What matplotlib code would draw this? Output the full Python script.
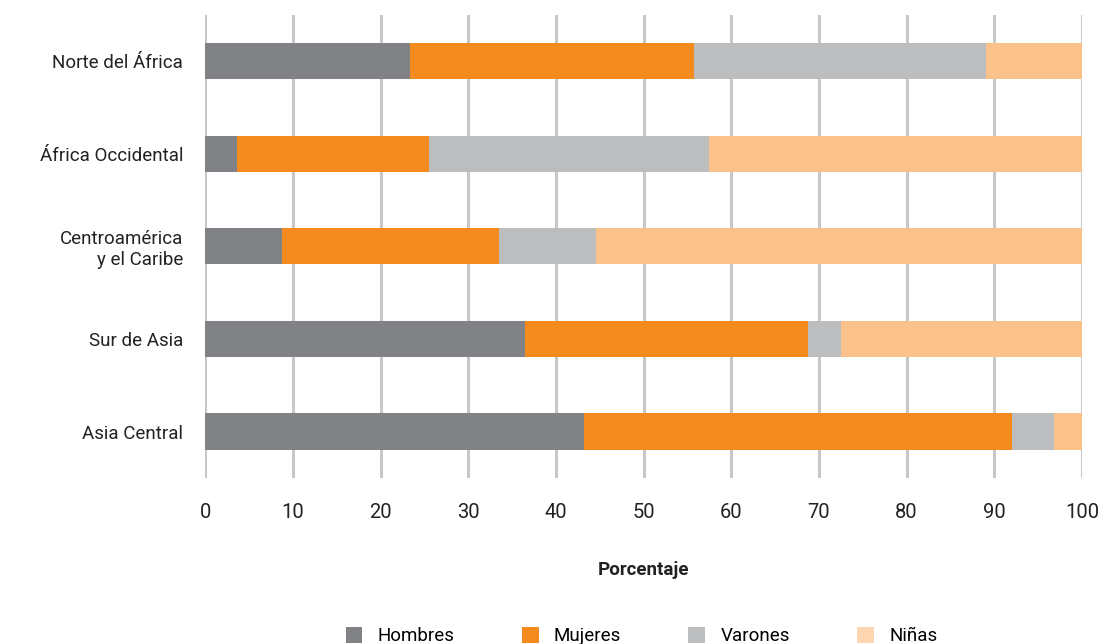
import matplotlib
matplotlib.use("Agg")
import matplotlib.pyplot as plt
from matplotlib.patches import Patch

plt.rcParams['font.family'] = ['Roboto', 'DejaVu Sans']

categories = ["Norte del África", "África Occidental", "Centroamérica\ny el Caribe", "Sur de Asia", "Asia Central"]
series_names = ["Hombres", "Mujeres", "Varones", "Niñas"]
hombres = [23.3, 3.6, 8.7, 36.5, 43.2]
mujeres = [32.5, 21.9, 24.8, 32.2, 48.8]
varones = [33.3, 32.0, 11.1, 3.8, 4.8]
ninas = [10.9, 42.5, 55.4, 27.5, 3.2]
xticks = [0, 10, 20, 30, 40, 50, 60, 70, 80, 90, 100]

colors = ["#818286", "#F58B1F", "#BCBDBF", "#FBC18A"]
legend_colors = ["#818286", "#F58B1F", "#BCBDBF", "#FDD5AE"]

fig = plt.figure(figsize=(11.04, 6.44), dpi=100)
ax = fig.add_axes([0.186, 0.258, 0.794, 0.719])

ypos = list(range(len(categories)))
left = [0.0] * len(categories)
for vals, c in zip([hombres, mujeres, varones, ninas], colors):
    ax.barh(ypos, vals, left=left, height=0.39, color=c, zorder=3, linewidth=0)
    left = [l + v for l, v in zip(left, vals)]

ax.set_ylim(len(categories) - 0.5, -0.5)
ax.set_xlim(0, 100)
ax.set_xticks(xticks)
ax.set_xticklabels([str(t) for t in xticks], fontsize=14.5, color="#222222")
ax.set_yticks(ypos)
ax.set_yticklabels(categories, fontsize=13.5, color="#222222")
ax.tick_params(axis='both', length=0)
ax.tick_params(axis='x', pad=18)
ax.tick_params(axis='y', pad=16)
for lab in ax.get_yticklabels():
    lab.set_multialignment('right')
for s in ax.spines.values():
    s.set_visible(False)
ax.xaxis.grid(True, color="#C8C8C8", linewidth=2.2, zorder=0)
ax.set_axisbelow(True)

ax.set_xlabel("Porcentaje", fontsize=13.5, fontweight='bold', labelpad=28, color="#222222")

handles = [Patch(facecolor=c, edgecolor='none') for c in legend_colors]
fig.legend(handles, series_names, loc='center', bbox_to_anchor=(0.581, 0.012),
           ncol=4, frameon=False, fontsize=13.5, handlelength=0.9, handleheight=0.9,
           columnspacing=3.6, handletextpad=0.8)

fig.savefig("out.png", dpi=100)
